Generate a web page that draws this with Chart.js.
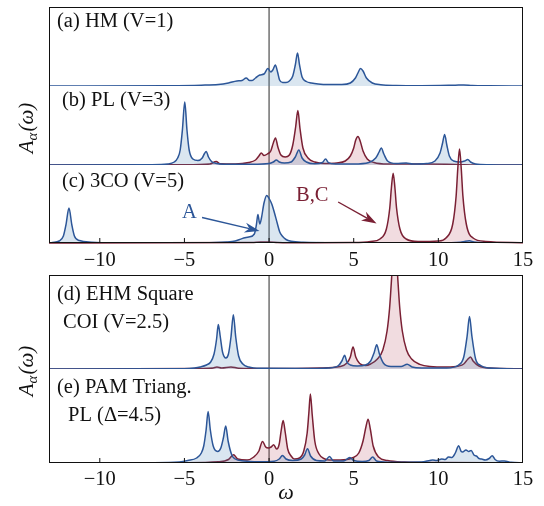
<!DOCTYPE html>
<html><head><meta charset="utf-8">
<script src="https://cdn.jsdelivr.net/npm/chart.js@4.4.0/dist/chart.umd.min.js"></script>
<style>
html,body{margin:0;padding:0;background:#fff;}
#wrap{position:relative;width:544px;height:506px;overflow:hidden;background:#fff;}
canvas{position:absolute;left:0;}
</style></head><body><div id="wrap">
<canvas id="pa"></canvas><canvas id="pb"></canvas><canvas id="pc"></canvas><canvas id="pd"></canvas><canvas id="pe"></canvas>
</div>
<script>
// ---- data (omega, A(omega)), arbitrary units ----
const xTickValues = [-10, -5, 0, 5, 10, 15];
const panelLabels = {
  a: ['(a) HM (V=1)'],
  b: ['(b) PL (V=3)'],
  c: ['(c) 3CO (V=5)'],
  d: ['(d) EHM Square', 'COI (V=2.5)'],
  e: ['(e) PAM Triang.', 'PL (\u0394=4.5)']
};
const yTitleMain = 'A';
const yTitleSub = '\u03B1';
const yTitleArg = '(\u03C9)';
const xTitle = '\u03C9';
const annotA = 'A';
const annotBC = 'B,C';

const aBlue = [[-13,0],[-6,0.3],[-4,0.8],[-3,1.5],[-2.4,3],[-1.9,5],[-1.6,5.5],[-1.35,8],[-1.15,5.5],[-1,5.5],[-0.8,8],[-0.55,11],[-0.3,12],[-0.07,17.5],[0.1,14],[0.22,16],[0.37,21],[0.5,14],[0.62,6],[0.8,3.5],[1.0,3.5],[1.2,5],[1.4,10],[1.55,21],[1.68,33],[1.8,21],[1.95,9],[2.2,4.5],[2.5,3],[2.9,2],[3.5,1.5],[4.3,1.5],[4.8,3],[5.1,8],[5.25,13],[5.4,17.5],[5.55,15],[5.75,8],[6.1,3],[6.6,1.2],[7.5,0.5],[9,0.3],[11,0.8],[11.5,1],[12,0.5],[13,0.2],[15,0]];

const bBlue = [[-13,0],[-7,0.3],[-6,1],[-5.6,3],[-5.4,7],[-5.25,15],[-5.12,35],[-4.98,63],[-4.85,35],[-4.72,15],[-4.5,6],[-4.2,4.5],[-3.95,7],[-3.83,11],[-3.71,13.5],[-3.58,8],[-3.4,3.5],[-3.1,1.5],[-2.5,0.7],[-1,0.7],[0,1.5],[0.25,3],[0.43,5],[0.6,3],[0.9,2],[1.3,3],[1.55,8],[1.76,15],[1.95,7],[2.2,3],[2.7,1.2],[3.15,2.5],[3.34,6],[3.5,2.5],[3.9,1],[5,1],[5.9,2.5],[6.3,7],[6.5,13],[6.63,17],[6.78,11],[7.0,4],[7.5,1.5],[8.1,2],[8.5,1],[9.3,1.5],[9.8,4],[10.1,12],[10.25,22],[10.37,30.5],[10.5,20],[10.65,9],[10.9,4],[11.3,3],[11.55,4],[11.74,5.5],[11.9,3],[12.2,1],[13,0.3],[15,0]];
const bRed = [[-13,0],[-5,0.3],[-3.5,1],[-3.12,3.5],[-2.9,1.2],[-2,1],[-1.2,2.5],[-0.8,5],[-0.6,9],[-0.46,12],[-0.3,9.5],[-0.1,11],[0.1,14],[0.25,22],[0.38,27],[0.52,18],[0.7,10],[0.95,8],[1.2,10],[1.4,20],[1.57,38],[1.7,54.5],[1.83,36],[2.0,17],[2.3,7],[2.7,3],[3.3,1.5],[4,2],[4.5,4],[4.8,9],[5.0,17],[5.12,25],[5.25,28.5],[5.38,24],[5.55,14],[5.8,6],[6.2,2.5],[7,1],[9,1],[10.5,0.8],[11.5,0.3],[13,0],[15,0]];

const cBlue = [[-13,0],[-12.8,0.5],[-12.4,2],[-12.15,7],[-12.0,18],[-11.82,35],[-11.65,18],[-11.5,7],[-11.2,2.5],[-10.5,0.8],[-9,0.2],[-4,0.3],[-2.5,1],[-2,2],[-1.6,4.4],[-1.2,6],[-0.87,9],[-0.75,18],[-0.66,28.5],[-0.55,19],[-0.45,25],[-0.3,40],[-0.14,47.6],[0.05,43],[0.17,38.5],[0.32,30],[0.48,20],[0.63,11],[0.79,6.7],[1.0,3.5],[1.3,1.7],[2,0.7],[4,0.3],[10,0.3],[11.3,0.8],[11.6,1.8],[11.84,2.2],[12.1,1],[13,0.3],[15,0]];
const cRed = [[-13,0],[-1,0.5],[-0.5,1],[0,1],[0.5,0.6],[2,0.3],[5,0.5],[6.0,1.5],[6.55,4],[6.93,14],[7.13,35],[7.23,56],[7.33,69.7],[7.43,56],[7.53,35],[7.73,14],[8.1,4],[8.8,1.5],[10.0,2],[10.45,5],[10.85,19],[11.05,47],[11.15,75],[11.25,94],[11.35,75],[11.45,47],[11.65,19],[12.05,5],[12.8,1.5],[15,0.3]];

const dBlue = [[-13,0],[-5,0.3],[-4.4,1],[-4.07,2],[-3.7,4],[-3.45,7],[-3.25,15],[-3.1,30],[-3.0,44.6],[-2.88,32],[-2.75,17],[-2.55,11],[-2.4,15],[-2.25,32],[-2.11,54.3],[-1.97,32],[-1.8,13],[-1.55,5],[-1.2,2],[-0.5,0.7],[2,0.5],[3.5,1],[4.1,3.5],[4.3,8],[4.46,13.7],[4.6,7],[4.8,4],[5.2,3],[5.7,4],[6.0,8],[6.2,16],[6.36,24.3],[6.52,15],[6.75,6],[7.2,2.5],[7.8,2.5],[8.16,4.7],[8.45,2],[9,1],[10.5,1],[11.2,4],[11.5,12],[11.7,33],[11.84,52.6],[11.98,33],[12.2,10],[12.5,3.5],[13,1],[15,0]];
const dRed = [[-13,0],[-4,0.5],[-3.3,1],[-3.08,2],[-2.8,1],[-2.25,2],[-1.8,0.8],[0,0.5],[3,1],[4.2,2.5],[4.6,6],[4.8,12],[4.96,22],[5.12,12],[5.35,5.5],[5.7,3.5],[6.0,5],[6.4,10],[6.72,19],[6.97,38],[7.12,61],[7.22,86],[7.32,112],[7.42,125],[7.52,112],[7.62,86],[7.72,61],[7.87,38],[8.12,19],[8.42,10],[8.9,4.6],[9.5,2.5],[10.5,2],[11.2,3],[11.5,5],[11.75,10],[11.9,12],[12.05,8],[12.4,3],[13,1],[15,0.3]];

const eBlue = [[-13,0],[-7,0.3],[-5.3,1],[-4.8,2.5],[-4.28,5],[-4.0,10],[-3.86,17],[-3.72,33],[-3.6,51.5],[-3.47,33],[-3.3,17],[-3.04,11.6],[-2.85,15],[-2.7,25],[-2.56,37],[-2.42,22],[-2.2,8],[-2.0,4],[-1.5,2],[-0.6,1.2],[0.3,1.8],[0.6,4],[0.79,7.6],[1.0,4],[1.4,2.5],[1.9,4],[2.1,8],[2.27,14.3],[2.45,7],[2.8,2.5],[3.3,2],[3.57,6.6],[3.8,2],[4.4,2],[4.77,5.6],[5.0,2.5],[5.5,1.5],[5.9,2.5],[6.12,6],[6.35,2],[7,0.8],[9,1],[9.5,2.5],[9.67,3],[9.9,2.5],[10.2,4],[10.4,3.5],[10.6,6],[10.8,5.5],[11.0,10],[11.2,17.3],[11.35,11.5],[11.43,11],[11.63,13],[11.8,11.5],[11.94,12.6],[12.1,8],[12.25,7],[12.4,4.5],[12.56,4],[12.77,3],[13.0,4.5],[13.18,7.3],[13.35,3.5],[13.6,1.8],[13.9,2],[14.3,0.7],[15,0.3]];
const eRed = [[-13,0],[-5,0.3],[-3,1.2],[-2.4,3.5],[-2.1,8.3],[-1.85,4],[-1.3,3],[-0.9,6],[-0.6,12],[-0.39,21.6],[-0.2,16],[-0.04,15],[0.12,16],[0.27,18.3],[0.45,14],[0.6,19],[0.72,33],[0.83,42.5],[0.96,30],[1.1,14],[1.3,7],[1.5,4],[1.8,5],[2.05,12],[2.25,30],[2.35,50],[2.44,69],[2.55,48],[2.7,22],[2.95,9],[3.3,4],[3.57,3],[4.2,3],[4.9,5],[5.3,10],[5.55,22],[5.72,36],[5.85,43.8],[5.98,34],[6.15,17],[6.47,6],[7,2.5],[8,1],[10,0.5],[15,0]];

// ---- styling ----
const BLUE = 'rgb(44,86,152)', BLUE_FILL = 'rgba(70,130,180,0.20)';
const RED = 'rgb(122,32,52)', RED_FILL = 'rgba(170,50,70,0.17)';
const SERIF = '"Liberation Serif", "DejaVu Serif", serif';
const FS = 20.5;

function ds(points, color, fill, clip) {
  const d = {
    data: points.map(p => ({x: p[0], y: p[1]})),
    borderColor: color, backgroundColor: fill, fill: 'origin',
    borderWidth: 1.5, pointRadius: 0, cubicInterpolationMode: 'monotone'
  };
  if (clip !== undefined) d.clip = clip;
  return d;
}

function drawArrow(ctx, x1, y1, x2, y2, color) {
  const ang = Math.atan2(y2 - y1, x2 - x1);
  const L = 15, W = 5;
  ctx.save();
  ctx.strokeStyle = color; ctx.fillStyle = color; ctx.lineWidth = 1.4;
  ctx.beginPath(); ctx.moveTo(x1, y1);
  ctx.lineTo(x2 - Math.cos(ang) * L * 0.7, y2 - Math.sin(ang) * L * 0.7); ctx.stroke();
  ctx.beginPath();
  ctx.moveTo(x2, y2);
  ctx.lineTo(x2 - L * Math.cos(ang) + W * Math.sin(ang), y2 - L * Math.sin(ang) - W * Math.cos(ang));
  ctx.lineTo(x2 - L * 0.7 * Math.cos(ang), y2 - L * 0.7 * Math.sin(ang));
  ctx.lineTo(x2 - L * Math.cos(ang) - W * Math.sin(ang), y2 - L * Math.sin(ang) + W * Math.cos(ang));
  ctx.closePath(); ctx.fill();
  ctx.restore();
}

function drawYTitle(ctx, cx, cy) {
  ctx.save();
  ctx.translate(cx, cy);
  ctx.rotate(-Math.PI / 2);
  ctx.fillStyle = '#111';
  ctx.textBaseline = 'alphabetic';
  const f1 = 'italic 21px ' + SERIF, f2 = 'italic 15px ' + SERIF;
  ctx.font = f1; const w1 = ctx.measureText(yTitleMain).width;
  const w3 = ctx.measureText(yTitleArg).width;
  ctx.font = f2; const w2 = ctx.measureText(yTitleSub).width;
  let x = -(w1 + w2 + w3 + 1) / 2;
  const base = 6;
  ctx.font = f1; ctx.textAlign = 'left'; ctx.fillText(yTitleMain, x, base); x += w1;
  ctx.font = f2; ctx.fillText(yTitleSub, x, base + 4); x += w2 + 1;
  ctx.font = f1; ctx.fillText(yTitleArg, x, base);
  ctx.restore();
}

const deco = {
  id: 'deco',
  beforeDatasetsDraw(chart, args, o) {
    const {ctx, chartArea: ca, scales: {x}} = chart;
    const x0 = x.getPixelForValue(0);
    ctx.save();
    ctx.strokeStyle = '#5a5a5a'; ctx.lineWidth = 1.3;
    ctx.beginPath(); ctx.moveTo(x0, ca.top); ctx.lineTo(x0, ca.bottom); ctx.stroke();
    ctx.restore();
  },
  afterDatasetsDraw(chart, args, o) {
    const {ctx, chartArea: ca, scales: {x, y}} = chart;
    ctx.save();
    ctx.strokeStyle = '#111'; ctx.lineWidth = 1;
    ctx.beginPath();
    ctx.moveTo(ca.left + 0.5, ca.top); ctx.lineTo(ca.left + 0.5, ca.bottom);
    ctx.moveTo(ca.right - 0.5, ca.top); ctx.lineTo(ca.right - 0.5, ca.bottom);
    if (o.frameTop) { ctx.moveTo(ca.left, ca.top + 0.5); ctx.lineTo(ca.right, ca.top + 0.5); }
    if (o.frameBottom) { ctx.moveTo(ca.left, ca.bottom - 0.5); ctx.lineTo(ca.right, ca.bottom - 0.5); }
    ctx.stroke();
    if (o.insideTicks) {
      ctx.beginPath();
      x.ticks.forEach(t => {
        const px = x.getPixelForValue(t.value);
        if (px > ca.left + 2 && px < ca.right - 2) { ctx.moveTo(px, ca.bottom); ctx.lineTo(px, ca.bottom - 5); }
      });
      ctx.stroke();
    }
    ctx.fillStyle = '#111';
    ctx.font = FS + 'px ' + SERIF;
    ctx.textAlign = 'left'; ctx.textBaseline = 'middle';
    (o.labels || []).forEach(l => ctx.fillText(l.text, ca.left + l.dx, ca.top + l.dy));
    if (o.annot) {
      ctx.font = FS + 'px ' + SERIF; ctx.textAlign = 'center';
      o.annot.forEach(a => {
        ctx.fillStyle = a.color;
        ctx.fillText(a.text, x.getPixelForValue(a.tx), y.getPixelForValue(a.ty));
        drawArrow(ctx, x.getPixelForValue(a.from[0]), y.getPixelForValue(a.from[1]),
                  x.getPixelForValue(a.to[0]), y.getPixelForValue(a.to[1]), a.color);
      });
    }
    if (o.yTitle) drawYTitle(ctx, o.yTitle.x, o.yTitle.y);
    ctx.restore();
  }
};

function makePanel(id, c) {
  const cv = document.getElementById(id);
  const axisH = c.axisH || 0;
  const h = c.padTop + (c.bottom - c.top) + axisH + c.padBottom;
  cv.width = 544; cv.height = h;
  cv.style.top = (c.top - c.padTop) + 'px';
  cv.style.width = '544px'; cv.style.height = h + 'px';
  const xScale = {
    type: 'linear', min: -13, max: 15, display: !!c.axis,
    grid: {display: false, drawTicks: false},
    border: {display: false},
    ticks: {
      stepSize: 5, includeBounds: false, padding: c.tickPad || 6, color: '#111',
      font: {family: SERIF, size: FS},
      maxRotation: 0, autoSkip: false,
      callback: v => xTickValues.includes(v) ? String(v).replace('-', '\u2212') : ''
    },
    afterFit: s => { s.height = axisH; }
  };
  if (c.xTitle) {
    xScale.title = {display: true, text: xTitle, color: '#111',
      font: {family: SERIF, size: 22, style: 'italic'}, padding: {top: 0, bottom: c.titlePad || 0}};
  }
  return new Chart(cv, {
    type: 'line',
    data: {datasets: c.datasets},
    options: {
      responsive: false, animation: false, events: [],
      layout: {padding: {left: 49, right: 21, top: c.padTop, bottom: c.padBottom}},
      plugins: {legend: {display: false}, tooltip: {enabled: false}, deco: c.deco},
      scales: {x: xScale, y: {type: 'linear', min: 0, max: c.ymax, display: false}}
    },
    plugins: [deco]
  });
}

// dataset 0 is drawn on top in Chart.js, so the blue series comes first
makePanel('pa', {top: 7, bottom: 86, padTop: 4, padBottom: 3, ymax: 79,
  datasets: [ds(aBlue, BLUE, BLUE_FILL)],
  deco: {frameTop: true, labels: [{text: panelLabels.a[0], dx: 8, dy: 15}]}});
makePanel('pb', {top: 86, bottom: 165, padTop: 3, padBottom: 3, ymax: 79,
  datasets: [ds(bBlue, BLUE, BLUE_FILL), ds(bRed, RED, RED_FILL)],
  deco: {labels: [{text: panelLabels.b[0], dx: 13, dy: 15}], yTitle: {x: 27, y: 128 - 83}}});
makePanel('pc', {top: 165, bottom: 243, padTop: 25, padBottom: 0, ymax: 78, axis: true, axisH: 32, tickPad: 5,
  datasets: [ds(cBlue, BLUE, BLUE_FILL), ds(cRed, RED, RED_FILL, false)],
  deco: {frameBottom: true, insideTicks: true, labels: [{text: panelLabels.c[0], dx: 13, dy: 17}],
    annot: [
      {text: annotA, color: BLUE, tx: -4.7, ty: 30, from: [-3.96, 25.5], to: [-0.56, 12]},
      {text: annotBC, color: RED, tx: 2.55, ty: 47, from: [4.08, 41], to: [6.35, 19.5]}
    ]}});
makePanel('pd', {top: 275, bottom: 369, padTop: 4, padBottom: 40, ymax: 94,
  datasets: [ds(dBlue, BLUE, BLUE_FILL), ds(dRed, RED, RED_FILL)],
  deco: {frameTop: true, labels: [{text: panelLabels.d[0], dx: 8, dy: 20}, {text: panelLabels.d[1], dx: 14, dy: 48}],
    yTitle: {x: 27, y: 371 - 271}}});
makePanel('pe', {top: 369, bottom: 463, padTop: 4, padBottom: 0, ymax: 94, axis: true, axisH: 43, tickPad: 4, xTitle: true,
  datasets: [ds(eBlue, BLUE, BLUE_FILL), ds(eRed, RED, RED_FILL)],
  deco: {frameBottom: true, insideTicks: true,
    labels: [{text: panelLabels.e[0], dx: 8, dy: 19}, {text: panelLabels.e[1], dx: 19, dy: 47}]}});
</script>
</body></html>
